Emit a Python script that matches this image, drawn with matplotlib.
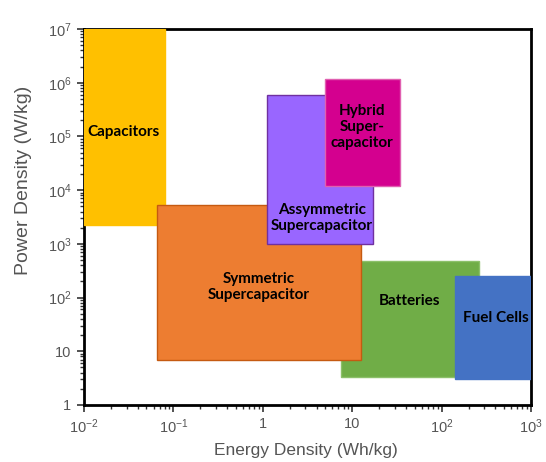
import matplotlib
matplotlib.use("Agg")
import matplotlib.pyplot as plt
from matplotlib.patches import Rectangle
from matplotlib.ticker import LogLocator, NullFormatter, FixedLocator

plt.rcParams['font.family'] = ['Liberation Sans', 'DejaVu Sans']
plt.rcParams['mathtext.fontset'] = 'custom'
plt.rcParams['mathtext.rm'] = 'Liberation Sans'
plt.rcParams['mathtext.it'] = 'Liberation Sans'

# Data (drawing order: back to front)
labels = ["Batteries", "Fuel Cells", "Capacitors", "Symmetric\nSupercapacitor",
          "Assymmetric\nSupercapacitor", "Hybrid\nSuper-\ncapacitor"]
energy_min = [7.4, 141, 0.01, 0.066, 1.12, 4.9]
energy_max = [262, 1000, 0.081, 12.4, 17, 34]
power_min = [3.3, 3.05, 2290, 6.9, 1000, 11700]
power_max = [485, 256, 1e7, 5200, 5.8e5, 1.15e6]
label_x = [44, 400, 0.028, 0.9, 4.6, 12.8]
label_y = [87, 42, 1.2e5, 160, 3.0e3, 1.5e5]

face_colors = ["#70AD47", "#4472C4", "#FFC000", "#ED7D31", "#9966FF", "#D4008F"]
edge_colors = ["#8CC06A", "#4472C4", "#FFC000", "#C55A11", "#7030A0", "#E060B0"]

x_ticks = [1e-2, 1e-1, 1, 10, 1e2, 1e3]
x_ticklabels = [r"$10^{-2}$", r"$10^{-1}$", "1", "10", r"$10^{2}$", r"$10^{3}$"]
y_ticks = [1, 10, 1e2, 1e3, 1e4, 1e5, 1e6, 1e7]
y_ticklabels = ["1", "10", r"$10^{2}$", r"$10^{3}$", r"$10^{4}$", r"$10^{5}$",
                r"$10^{6}$", r"$10^{7}$"]

fig = plt.figure(figsize=(5.46, 4.62), dpi=100)
ax = fig.add_axes([84/546, 1 - 405/462, (531-84)/546, (405-29)/462])
ax.set_xscale("log")
ax.set_yscale("log")
ax.set_xlim(1e-2, 1e3)
ax.set_ylim(1, 1e7)

for i in range(len(labels)):
    r = Rectangle((energy_min[i], power_min[i]), energy_max[i] - energy_min[i],
                  power_max[i] - power_min[i], facecolor=face_colors[i],
                  edgecolor=edge_colors[i], linewidth=1.0, zorder=2 + i)
    ax.add_patch(r)
    ax.text(label_x[i], label_y[i], labels[i], ha="center", va="center",
            fontsize=11, fontweight="bold", color="black", family="Lato",
            zorder=20, linespacing=1.2)

ax.xaxis.set_major_locator(FixedLocator(x_ticks))
ax.set_xticklabels(x_ticklabels)
ax.yaxis.set_major_locator(FixedLocator(y_ticks))
ax.set_yticklabels(y_ticklabels)
ax.xaxis.set_minor_locator(LogLocator(base=10, subs=range(2, 10), numticks=20))
ax.yaxis.set_minor_locator(LogLocator(base=10, subs=range(2, 10), numticks=20))
ax.xaxis.set_minor_formatter(NullFormatter())
ax.yaxis.set_minor_formatter(NullFormatter())

ax.tick_params(which="major", direction="out", length=5, width=1.2, color="#333333",
               labelsize=10.5, labelcolor="#555555", pad=4)
ax.tick_params(which="minor", direction="out", length=3, width=1.0, color="#333333")

for s in ax.spines.values():
    s.set_linewidth(2.0)
    s.set_color("black")

fig.text(306/546, 1 - 451/462, "Energy Density (Wh/kg)", fontsize=12.5,
         color="#555555", ha="center", va="center")
fig.text(24/546, 1 - 180/462, "Power Density (W/kg)", fontsize=14,
         color="#555555", ha="center", va="center", rotation=90)

fig.savefig("out.png", dpi=100, facecolor="white")
